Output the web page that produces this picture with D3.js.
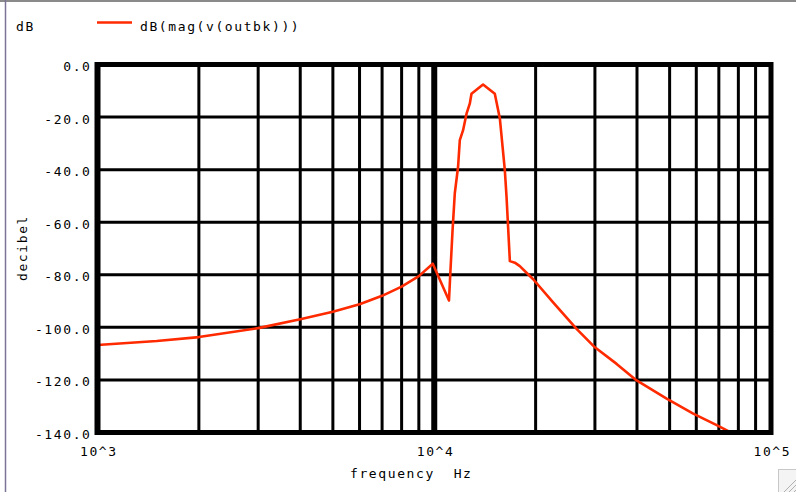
<!DOCTYPE html>
<html><head><meta charset="utf-8">
<script src="https://cdn.jsdelivr.net/npm/d3@7"></script>
<style>
html,body{margin:0;padding:0;background:#fff;}
svg{display:block;}
text{font-family:"DejaVu Sans Mono","Liberation Mono",monospace;font-size:13px;letter-spacing:1.6px;fill:#000;white-space:pre;}
</style></head>
<body>
<script>
// ---- data ----
const freqHz = [1000, 1500, 2000, 3000, 4000, 5000, 6000, 7000, 8000, 9000, 9900,
  11060, 11170, 11330, 11510, 11770, 11910, 12180, 12470, 12750, 12900, 13960,
  15130, 15660, 16200, 16390, 16770, 17350, 17950, 19670, 22540, 26460, 29990,
  34800, 39900, 48980, 58750, 68970, 75170];
const magDb = [-106.7, -105.2, -103.7, -100.3, -96.9, -94.1, -91.2, -88.0, -84.5, -80.5, -75.8,
  -89.8, -78.6, -63.4, -48.9, -38.9, -28.8, -25.0, -18.7, -14.9, -11.1, -7.6,
  -11.1, -20.5, -40.1, -50.2, -74.8, -75.4, -76.7, -81.7, -90.5, -100.6, -107.6,
  -113.9, -120.2, -127.1, -132.8, -137.2, -139.7];
const yTickValues = [0, -20, -40, -60, -80, -100, -120, -140];
const yTickLabels = ["0.0", "-20.0", "-40.0", "-60.0", "-80.0", "-100.0", "-120.0", "-140.0"];
const xTickValues = [1e3, 1e4, 1e5];
const xTickLabels = ["10^3", "10^4", "10^5"];
const seriesName = "dB(mag(v(outbk)))";
const yUnit = "dB";
const yTitle = "decibel";
const xTitle = "frequency  Hz";

const W = 796, H = 492;
const L = 97.5, R = 771, T = 64.5, B = 432.5;
const svg = d3.select("body").append("svg").attr("width", W).attr("height", H);

// window frame
svg.append("line").attr("x1", 0).attr("x2", W).attr("y1", 1).attr("y2", 1)
  .attr("stroke", "#8a8a8a").attr("stroke-width", 2);
svg.append("line").attr("x1", 5.5).attr("x2", 5.5).attr("y1", 0).attr("y2", H)
  .attr("stroke", "#7d7396").attr("stroke-width", 1.5);

const x = d3.scaleLog().domain([1e3, 1e5]).range([L, R]);
const y = d3.scaleLinear().domain([-140, 0]).range([B, T]);

// grid
const minor = [];
[1e3, 1e4].forEach(d => { for (let k = 2; k <= 9; k++) minor.push(k * d); });
svg.append("g").selectAll("line").data(minor).join("line")
  .attr("x1", d => x(d)).attr("x2", d => x(d)).attr("y1", T).attr("y2", B)
  .attr("stroke", "#000").attr("stroke-width", 3);
svg.append("line").attr("x1", x(1e4)).attr("x2", x(1e4)).attr("y1", T).attr("y2", B)
  .attr("stroke", "#000").attr("stroke-width", 6);
svg.append("g").selectAll("line").data(yTickValues.slice(1, -1)).join("line")
  .attr("x1", L).attr("x2", R).attr("y1", d => y(d)).attr("y2", d => y(d))
  .attr("stroke", "#000").attr("stroke-width", 3);

// curve
svg.append("clipPath").attr("id", "clip").append("rect")
  .attr("x", L).attr("y", T).attr("width", R - L).attr("height", B - T);
const line = d3.line().x((d, i) => x(freqHz[i])).y(d => y(d));
svg.append("path").datum(magDb).attr("d", line).attr("clip-path", "url(#clip)")
  .attr("fill", "none").attr("stroke", "#ff2a00").attr("stroke-width", 2.6)
  .attr("stroke-linejoin", "round");

// frame
svg.append("rect").attr("x", L).attr("y", T).attr("width", R - L).attr("height", B - T)
  .attr("fill", "none").attr("stroke", "#000").attr("stroke-width", 5);
svg.append("line").attr("x1", L).attr("x2", L).attr("y1", T - 2.5).attr("y2", B + 2.5)
  .attr("stroke", "#000").attr("stroke-width", 6);

// axes (labels)
const yAxis = d3.axisLeft(y).tickValues(yTickValues)
  .tickFormat((d, i) => yTickLabels[i]).tickSize(0).tickPadding(0);
const gy = svg.append("g").attr("transform", `translate(${L - 6},0)`).call(yAxis);
gy.select(".domain").remove();
gy.selectAll("text").attr("dy", "0.38em").attr("font-family", null).attr("font-size", null)
  .attr("y", 1);

const xAxis = d3.axisBottom(x).tickValues(xTickValues)
  .tickFormat((d, i) => xTickLabels[i]).tickSize(0).tickPadding(0);
const gx = svg.append("g").attr("transform", `translate(0,${B})`).call(xAxis);
gx.select(".domain").remove();
gx.selectAll("text").attr("font-family", null).attr("font-size", null)
  .attr("dy", null).attr("y", 23).attr("dx", "0.8px");

// titles
svg.append("text").attr("x", 350).attr("y", 478).attr("xml:space", "preserve").text(xTitle);
svg.append("text").attr("transform", "translate(27,248) rotate(-90)")
  .attr("text-anchor", "middle").text(yTitle);
svg.append("text").attr("x", 16).attr("y", 31).text(yUnit);

// legend
svg.append("line").attr("x1", 97).attr("x2", 132).attr("y1", 22.5).attr("y2", 22.5)
  .attr("stroke", "#ff2a00").attr("stroke-width", 2.6);
svg.append("text").attr("x", 140).attr("y", 30.5).text(seriesName);

// resize grip
const grip = svg.append("g");
grip.append("rect").attr("x", 778.5).attr("y", 469.5).attr("width", 20).attr("height", 25)
  .attr("fill", "#f4f4f4").attr("stroke", "#c8c8c8");
[0, 5, 10].forEach(o => grip.append("line")
  .attr("x1", 784 + o).attr("y1", 492).attr("x2", 796).attr("y2", 480 + o)
  .attr("stroke", "#b0b0b0").attr("stroke-width", 1));
</script>
</body></html>
